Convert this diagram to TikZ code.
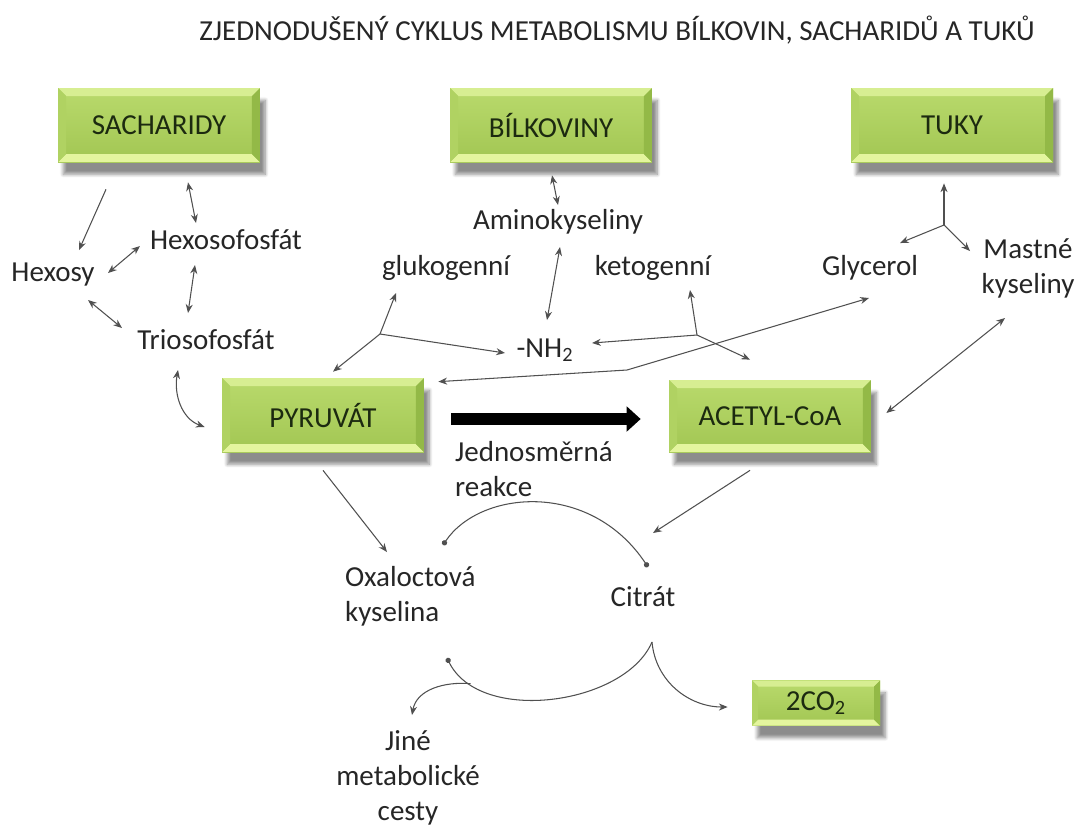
\documentclass[tikz,border=0pt]{standalone}
\usepackage{fontspec}
\setmainfont{Carlito}
\usepackage{tikz}
\usetikzlibrary{arrows.meta,calc,shadows.blur}

\definecolor{lineg}{HTML}{505050}
\definecolor{facetop}{HTML}{B9DA6C}
\definecolor{facebot}{HTML}{A2C653}
\definecolor{bevtop}{HTML}{D7EE92}
\definecolor{bevbot}{HTML}{E4F59E}
\definecolor{bevleft}{HTML}{B0D262}
\definecolor{bevright}{HTML}{93B947}
\definecolor{boxtext}{HTML}{1C2A10}

\begin{document}
\begin{tikzpicture}[x=0.02cm,y=0.02cm,
  bevel/.store in=\bevsz, bevel=8,
  box/.style={minimum width=4.04cm,minimum height=1.48cm,inner sep=0pt,
    top color=facetop,bottom color=facebot,text=boxtext,
    font=\fontsize{16.5}{20}\selectfont,
    blur shadow={shadow xshift=3pt,shadow yshift=-7pt,shadow blur steps=8,shadow opacity=45},
    path picture={
      \path (path picture bounding box.north west) coordinate (pnw)
            (path picture bounding box.north east) coordinate (pne)
            (path picture bounding box.south west) coordinate (psw)
            (path picture bounding box.south east) coordinate (pse);
      \fill[bevtop] (pnw) -- (pne) -- ([shift={(-\bevsz,-\bevsz)}]pne) -- ([shift={(\bevsz,-\bevsz)}]pnw) -- cycle;
      \fill[bevbot] (psw) -- (pse) -- ([shift={(-\bevsz,\bevsz)}]pse) -- ([shift={(\bevsz,\bevsz)}]psw) -- cycle;
      \fill[bevleft] (pnw) -- (psw) -- ([shift={(\bevsz,\bevsz)}]psw) -- ([shift={(\bevsz,-\bevsz)}]pnw) -- cycle;
      \fill[bevright] (pne) -- (pse) -- ([shift={(-\bevsz,\bevsz)}]pse) -- ([shift={(-\bevsz,-\bevsz)}]pne) -- cycle;
    }},
  lbl/.style={font=\fontsize{16.5}{20}\selectfont,text=black!85,inner sep=1pt},
  ln/.style={draw=lineg,line width=0.6pt},
  con/.style={ln,-{Stealth[length=5pt,width=4pt]}},
  dcon/.style={ln,{Stealth[length=5pt,width=4pt]}-{Stealth[length=5pt,width=4pt]}},
  dot/.style={ln,{Circle[length=3pt]}-{Circle[length=3pt]}}]
  \useasboundingbox (0,0) rectangle (1087,-826);
  % title
  \node[lbl,font=\fontsize{16.5}{20}\selectfont] (title) at (617,-30) {ZJEDNODUŠENÝ CYKLUS METABOLISMU BÍLKOVIN, SACHARIDŮ A TUKŮ};
  % boxes
  \node[box] (sach) at (159,-125) {SACHARIDY};
  \node[box] (bilk) at (551,-125) {BÍLKOVINY};
  \node[box] (tuky) at (952,-125) {TUKY};
  \node[box] (pyr) at (323,-415) {PYRUVÁT};
  \node[box,minimum height=1.44cm] (acet) at (770,-416) {ACETYL-CoA};
  \node[box,minimum width=2.56cm,minimum height=0.9cm,bevel=6] (co2) at (816,-703) {2CO\textsubscript{2}};
  % labels
  \node[lbl] (hexf) at (226,-240) {Hexosofosfát};
  \node[lbl] (hexosy) at (53,-275) {Hexosy};
  \node[lbl] (trif) at (206,-340) {Triosofosfát};
  \node[lbl] (amino) at (558,-222) {Aminokyseliny};
  \node[lbl] (gluko) at (446,-268) {glukogenní};
  \node[lbl] (keto) at (653,-268) {ketogenní};
  \node[lbl] (nh2) at (545,-350) {-NH\textsubscript{2}};
  \node[lbl] (glyc) at (870,-268) {Glycerol};
  \node[lbl,align=center] (mastne) at (1028,-268) {Mastné\\kyseliny};
  \node[lbl,align=left,anchor=west] (jedn) at (453,-469) {Jednosměrná\\reakce};
  \node[lbl,align=left,anchor=west] (oxal) at (343,-596) {Oxaloctová\\kyselina};
  \node[lbl] (citrat) at (643,-597) {Citrát};
  \node[lbl,align=center] (jine) at (408,-778) {Jiné\\metabolické\\cesty};
  % sacharidy
  \draw[con] ([shift={(-53,-27)}]sach.south) -- ([shift={(26,25)}]hexosy.center);
  \draw[dcon] ([shift={(29,-20)}]sach.south) -- ([shift={(-30,17)}]hexf.center);
  \draw[dcon] ([shift={(55,2)}]hexosy.center) -- ([shift={(-86,-6)}]hexf.center);
  \draw[dcon] ([shift={(-31,-25)}]hexf.center) -- ([shift={(-18,27)}]trif.center);
  \draw[dcon] ([shift={(35,-25)}]hexosy.center) -- ([shift={(-84,12)}]trif.center);
  \draw[dcon] ([shift={(-28,-30)}]trif.center) to[out=-100,in=160] ([shift={(-17,-12)}]pyr.west);
  % glukogenni aminokyseliny
  \coordinate (jg) at (380,-334);
  \draw[con] (jg) -- ([shift={(10,6)}]pyr.north);
  \draw[con] (jg) -- ([shift={(-50,-25)}]gluko.center);
  \draw[con] (jg) -- ([shift={(-40,-3)}]nh2.center);
  % bilkoviny
  \draw[dcon] ([shift={(1,-13)}]bilk.south) -- ([shift={(0,17)}]amino.center);
  \draw[dcon] ([shift={(2,-25)}]amino.center) -- ([shift={(2,30)}]nh2.center);
  % ketogenni aminokyseliny
  \coordinate (jk) at (697,-335);
  \draw[con] (jk) -- ([shift={(37,-22)}]keto.center);
  \draw[con] (jk) -- ([shift={(47,7)}]nh2.center);
  \draw[con] (jk) -- ([shift={(-20,20)}]acet.north);
  % glycerol
  \coordinate (kink) at (627,-370);
  \draw[dcon] ([shift={(-1,-30)}]glyc.center) -- (kink) -- ([shift={(14,-4)}]pyr.north east);
  % tuky
  \coordinate (jt) at (944,-225);
  \draw[con] (jt) -- ([shift={(-8,-21)}]tuky.south);
  \draw[con] (jt) -- ([shift={(30,25)}]glyc.center);
  \draw[con] (jt) -- ([shift={(-58,17)}]mastne.center);
  \draw[dcon] ([shift={(-23,-50)}]mastne.center) -- ([shift={(15,3)}]acet.east);
  % jednosmerna reakce
  \draw[line width=6.8pt,-{Triangle[length=8pt,width=14pt]}] ([shift={(27,-4)}]pyr.east) -- ([shift={(-28,-3)}]acet.west);
  % cyklus
  \draw[con] ([shift={(0,-18)}]pyr.south) -- ([shift={(44,44)}]oxal.west);
  \draw[con] ([shift={(-20,-18)}]acet.south) -- ([shift={(10,64)}]citrat.center);
  \draw[dot] ([shift={(100,51)}]oxal.west) .. controls (480,-490) and (590,-480) .. ([shift={(5,30)}]citrat.center);
  \coordinate (cusp) at ([shift={(9,-45)}]citrat.center);
  \draw[ln,-{Circle[length=3pt]}] (cusp) .. controls (625,-705) and (480,-725) .. ([shift={(104,-62)}]oxal.west) coordinate[pos=0.84] (odb);
  \draw[con] (odb) to[out=175,in=80] ([shift={(4,63)}]jine.center);
  \draw[con] (cusp) to[out=-85,in=180] ([shift={(-24,-4)}]co2.west);
\end{tikzpicture}
\end{document}
